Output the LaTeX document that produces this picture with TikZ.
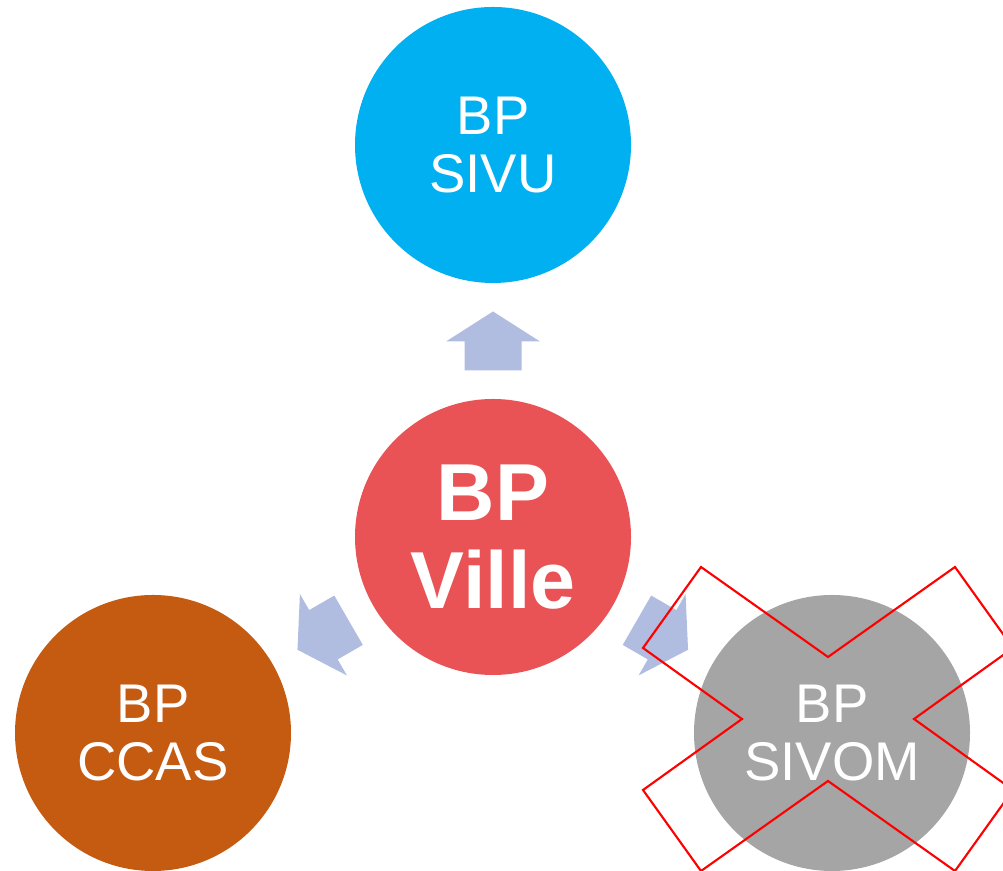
\documentclass[tikz,border=0pt]{standalone}
\usepackage{fontspec}
\setmainfont{Liberation Sans}
\usetikzlibrary{calc}

\definecolor{sivublue}{HTML}{00B0F0}
\definecolor{villered}{HTML}{E95355}
\definecolor{ccasbrown}{HTML}{C55A11}
\definecolor{sivomgrey}{HTML}{A5A5A5}
\definecolor{flowblue}{HTML}{B0BDE0}
\definecolor{crossred}{HTML}{FF0000}

\begin{document}
\begin{tikzpicture}[
  budget/.style={circle, minimum size=5.52cm, inner sep=0pt, text=white,
    align=center, font=\fontsize{31}{33}\selectfont},
  flow/.style={fill=flowblue},
  crossout/.style={draw=crossred, line width=1.2pt, line join=miter}]
\def\W{20.06};
\def\H{17.42};
\useasboundingbox (0,0) rectangle (\W,\H);
\clip (0,0) rectangle (\W,\H);

% budgets
\node[budget, fill=sivublue] (sivu) at (9.86,14.52) {BP\\SIVU};
\node[budget, fill=villered, font=\bfseries\fontsize{46}{50.5}\selectfont] (ville) at (9.86,6.68) {BP\\Ville};
\node[budget, fill=ccasbrown] (ccas) at (3.06,2.76) {BP\\CCAS};
\node[budget, fill=sivomgrey] (sivom) at (16.64,2.76) {BP\\SIVOM};

% arrows out of BP Ville
\foreach \target/\ang in {sivu/90, ccas/210, sivom/330}
  \fill[flow, shift={($(ville)!.5!(\target)$)}, rotate=\ang]
    (-0.59,-0.57) -- (-0.01,-0.57) -- (-0.01,-0.94) -- (0.59,0)
    -- (-0.01,0.94) -- (-0.01,0.57) -- (-0.59,0.57) -- cycle;

% cross over SIVOM
\coordinate (xmark) at (16.56,3.04);
\draw[crossout, shift={(xmark)}]
  (0,1.24) -- (-2.54,3.04) -- (-3.70,1.42) -- (-1.72,0)
  -- (-3.70,-1.42) -- (-2.54,-3.04) -- (0,-1.24) -- (2.54,-3.04)
  -- (3.70,-1.42) -- (1.72,0) -- (3.70,1.42) -- (2.54,3.04) -- cycle;

\end{tikzpicture}
\end{document}
